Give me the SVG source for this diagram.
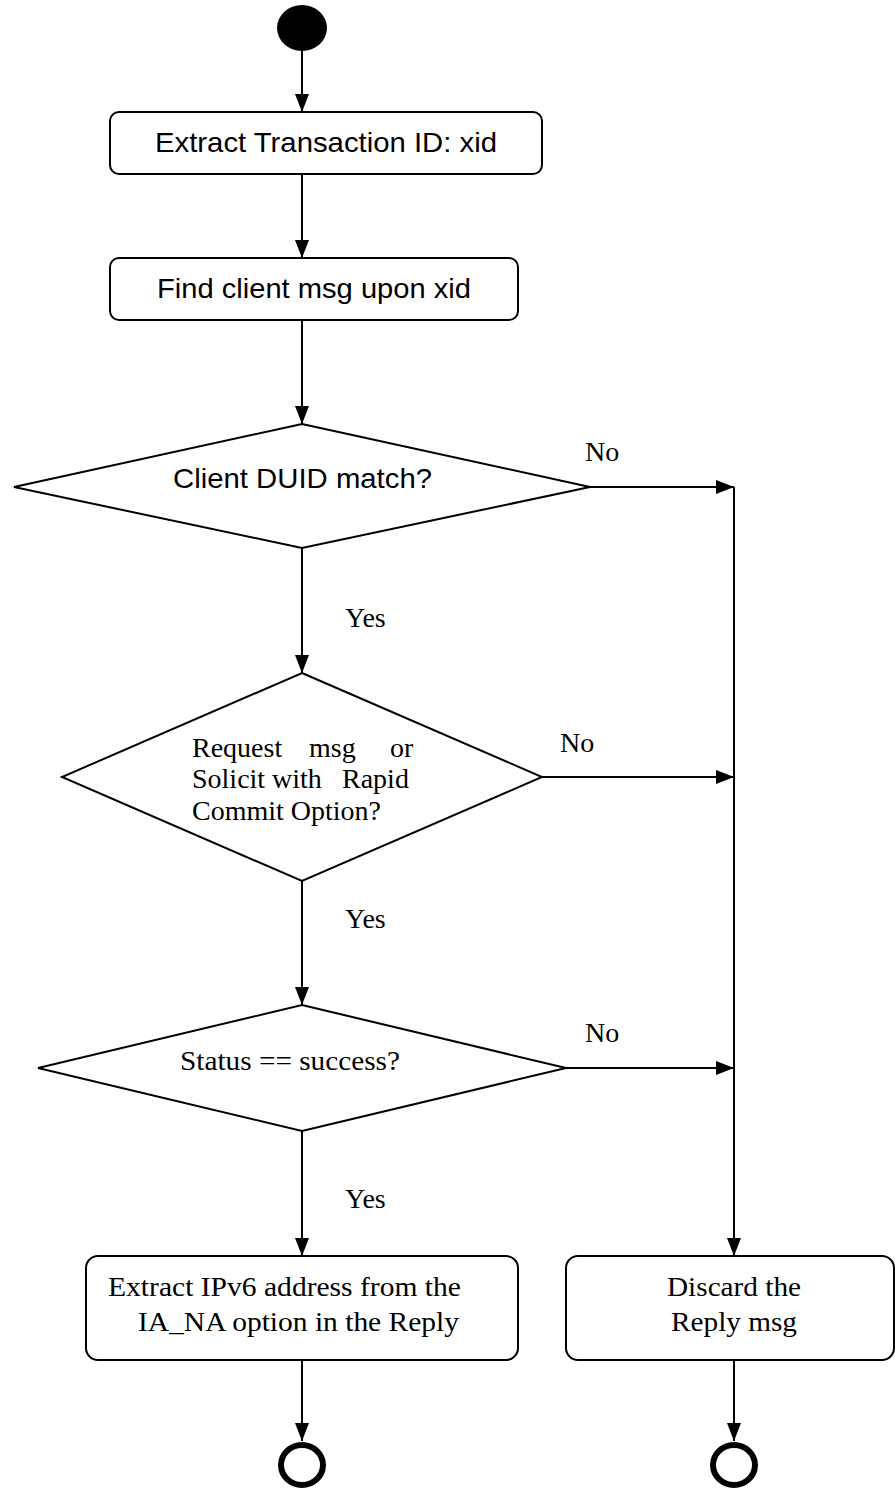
<svg xmlns="http://www.w3.org/2000/svg" width="895" height="1488" viewBox="0 0 895 1488">
  <style>
    .shape { fill: #ffffff; stroke: #000000; stroke-width: 2; }
    .edge { fill: none; stroke: #000000; stroke-width: 2; }
    .sans { font-family: "Liberation Sans", Arial, sans-serif; font-size: 28px; fill: #000000; }
    .serif { font-family: "Liberation Serif", "Times New Roman", serif; font-size: 28px; fill: #000000; }
    .final { fill: #ffffff; stroke: #000000; stroke-width: 6; }
  </style>
  <defs>
    <marker id="arrow" markerUnits="userSpaceOnUse" markerWidth="18" markerHeight="14" refX="18" refY="7" orient="auto">
      <path d="M0,0 L18,7 L0,14 Z" fill="#000000"/>
    </marker>
  </defs>
  <rect width="895" height="1488" fill="#ffffff"/>

  <g id="connectors">
    <line class="edge" x1="302" y1="51" x2="302" y2="112" marker-end="url(#arrow)"/>
    <line class="edge" x1="302" y1="174" x2="302" y2="258" marker-end="url(#arrow)"/>
    <line class="edge" x1="302" y1="320" x2="302" y2="424" marker-end="url(#arrow)"/>
    <line class="edge" x1="302" y1="548" x2="302" y2="673" marker-end="url(#arrow)"/>
    <line class="edge" x1="302" y1="881" x2="302" y2="1005" marker-end="url(#arrow)"/>
    <line class="edge" x1="302" y1="1131" x2="302" y2="1256" marker-end="url(#arrow)"/>
    <line class="edge" x1="302" y1="1360" x2="302" y2="1441" marker-end="url(#arrow)"/>
    <line class="edge" x1="734" y1="1360" x2="734" y2="1441" marker-end="url(#arrow)"/>
    <line class="edge" x1="590" y1="487" x2="734" y2="487" marker-end="url(#arrow)"/>
    <line class="edge" x1="542" y1="777" x2="734" y2="777" marker-end="url(#arrow)"/>
    <line class="edge" x1="566" y1="1068" x2="734" y2="1068" marker-end="url(#arrow)"/>
    <line class="edge" x1="734" y1="487" x2="734" y2="1256" marker-end="url(#arrow)"/>
    <text class="serif" x="585" y="461">No</text>
    <text class="serif" x="560" y="752">No</text>
    <text class="serif" x="585" y="1042">No</text>
    <text class="serif" x="345" y="627">Yes</text>
    <text class="serif" x="345" y="928">Yes</text>
    <text class="serif" x="345" y="1208">Yes</text>
  </g>

  <g id="start">
    <ellipse cx="302" cy="28" rx="25" ry="23" fill="#000000"/>
  </g>

  <g id="extract-xid">
    <rect class="shape" x="110" y="112" width="432" height="62" rx="9"/>
    <text class="sans" x="155" y="152" textLength="342" lengthAdjust="spacingAndGlyphs">Extract Transaction ID: xid</text>
  </g>

  <g id="find-client-msg">
    <rect class="shape" x="110" y="258" width="408" height="62" rx="9"/>
    <text class="sans" x="157" y="298" textLength="314" lengthAdjust="spacingAndGlyphs">Find client msg upon xid</text>
  </g>

  <g id="duid-match">
    <polygon class="shape" points="302,424 590,487 302,548 14,487"/>
    <text class="sans" x="173" y="488" textLength="259" lengthAdjust="spacingAndGlyphs">Client DUID match?</text>
  </g>

  <g id="rapid-commit">
    <polygon class="shape" points="302,673 542,777 302,881 62,777"/>
    <!-- justified three-line label, words placed one by one -->
    <text class="serif" x="192" y="757">Request</text>
    <text class="serif" x="309" y="757">msg</text>
    <text class="serif" x="390" y="757">or</text>
    <text class="serif" x="192" y="788">Solicit</text>
    <text class="serif" x="272" y="788">with</text>
    <text class="serif" x="342" y="788">Rapid</text>
    <text class="serif" x="192" y="820" textLength="189" lengthAdjust="spacingAndGlyphs">Commit Option?</text>
  </g>

  <g id="status-success">
    <polygon class="shape" points="302,1005 566,1068 302,1131 38,1068"/>
    <text class="serif" x="180" y="1070" textLength="220" lengthAdjust="spacingAndGlyphs">Status == success?</text>
  </g>

  <g id="extract-ipv6">
    <rect class="shape" x="86" y="1256" width="432" height="104" rx="12"/>
    <text class="serif" x="108" y="1296" textLength="353" lengthAdjust="spacingAndGlyphs">Extract IPv6 address from the</text>
    <text class="serif" x="138" y="1331" textLength="321" lengthAdjust="spacingAndGlyphs">IA_NA option in the Reply</text>
  </g>

  <g id="discard-reply">
    <rect class="shape" x="566" y="1256" width="328" height="104" rx="12"/>
    <text class="serif" x="667" y="1296" textLength="134" lengthAdjust="spacingAndGlyphs">Discard the</text>
    <text class="serif" x="671" y="1331" textLength="126" lengthAdjust="spacingAndGlyphs">Reply msg</text>
  </g>

  <g id="end-success">
    <ellipse class="final" cx="302" cy="1465" rx="21" ry="20"/>
  </g>

  <g id="end-discard">
    <ellipse class="final" cx="734" cy="1465" rx="21" ry="20"/>
  </g>
</svg>
